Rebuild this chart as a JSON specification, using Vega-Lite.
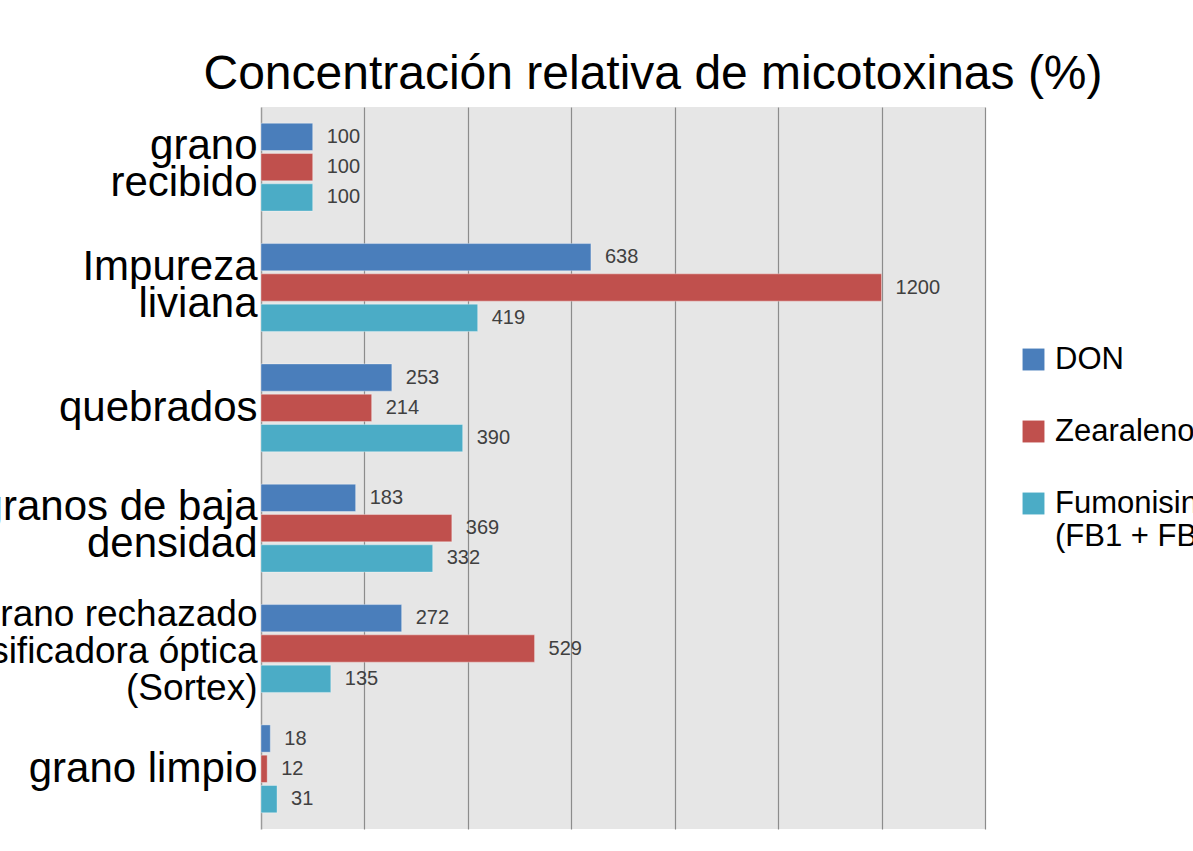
{
  "$schema": "https://vega.github.io/schema/vega-lite/v6.json",
  "autosize": {"type": "none"},
  "width": 724,
  "height": 722,
  "padding": {"left": 261, "top": 107, "right": 208, "bottom": 22},
  "background": "white",
  "title": {
    "text": "Concentración relativa de micotoxinas (%)",
    "font": "Liberation Sans",
    "fontSize": 48,
    "fontWeight": "normal",
    "color": "#000000",
    "anchor": "middle",
    "dx": 30,
    "offset": 8
  },
  "data": {
    "values": [
      {"categoria": "grano|recibido", "serie": "DON", "valor": 100},
      {"categoria": "grano|recibido", "serie": "Zearalenona", "valor": 100},
      {"categoria": "grano|recibido", "serie": "Fumonisinas|(FB1 + FB2)", "valor": 100},
      {"categoria": "Impureza|liviana", "serie": "DON", "valor": 638},
      {"categoria": "Impureza|liviana", "serie": "Zearalenona", "valor": 1200},
      {"categoria": "Impureza|liviana", "serie": "Fumonisinas|(FB1 + FB2)", "valor": 419},
      {"categoria": "quebrados", "serie": "DON", "valor": 253},
      {"categoria": "quebrados", "serie": "Zearalenona", "valor": 214},
      {"categoria": "quebrados", "serie": "Fumonisinas|(FB1 + FB2)", "valor": 390},
      {"categoria": "granos de baja|densidad", "serie": "DON", "valor": 183},
      {"categoria": "granos de baja|densidad", "serie": "Zearalenona", "valor": 369},
      {"categoria": "granos de baja|densidad", "serie": "Fumonisinas|(FB1 + FB2)", "valor": 332},
      {"categoria": "grano rechazado|clasificadora óptica|(Sortex)", "serie": "DON", "valor": 272},
      {"categoria": "grano rechazado|clasificadora óptica|(Sortex)", "serie": "Zearalenona", "valor": 529},
      {"categoria": "grano rechazado|clasificadora óptica|(Sortex)", "serie": "Fumonisinas|(FB1 + FB2)", "valor": 135},
      {"categoria": "grano limpio", "serie": "DON", "valor": 18},
      {"categoria": "grano limpio", "serie": "Zearalenona", "valor": 12},
      {"categoria": "grano limpio", "serie": "Fumonisinas|(FB1 + FB2)", "valor": 31}
    ]
  },
  "encoding": {
    "y": {
      "field": "categoria",
      "type": "nominal",
      "sort": null,
      "scale": {"paddingInner": 0.27, "paddingOuter": 0.135},
      "axis": {
        "title": null,
        "labelExpr": "split(datum.label, '|')",
        "labelFont": "Liberation Sans",
        "labelFontSize": {
          "condition": {"test": "length(split(datum.value, '|')) == 3", "value": 37},
          "value": 42
        },
        "labelLineHeight": 37,
        "labelColor": "#000000",
        "labelPadding": 4,
        "labelLimit": 0,
        "labelOffset": {
          "condition": [
            {"test": "length(split(datum.value, '|')) == 2", "value": -21},
            {"test": "length(split(datum.value, '|')) == 3", "value": -34}
          ],
          "value": 0
        },
        "ticks": false,
        "domain": true,
        "domainColor": "#9a9a9a",
        "domainWidth": 1.5
      }
    },
    "yOffset": {
      "field": "serie",
      "type": "nominal",
      "sort": null,
      "scale": {"paddingInner": 0.1}
    },
    "x": {
      "field": "valor",
      "type": "quantitative",
      "scale": {"domain": [0, 1400], "nice": false},
      "axis": {
        "title": null,
        "labels": false,
        "ticks": false,
        "domain": false,
        "grid": true,
        "values": [200, 400, 600, 800, 1000, 1200, 1400],
        "gridColor": "#8c8c8c",
        "gridWidth": 1.2
      }
    }
  },
  "layer": [
    {
      "mark": {"type": "bar", "stroke": "#ffffff", "strokeOpacity": 0.35, "strokeWidth": 1},
      "encoding": {
        "color": {
          "field": "serie",
          "type": "nominal",
          "sort": null,
          "scale": {"range": ["#4a7ebb", "#c0504d", "#4bacc6"]},
          "legend": {
            "title": null,
            "orient": "none",
            "legendX": 757,
            "legendY": 237,
            "labelExpr": "split(datum.label, '|')",
            "labelFont": "Liberation Sans",
            "labelFontSize": 31,
            "labelColor": "#000000",
            "labelLimit": 0,
            "labelOffset": 6,
            "symbolType": "square",
            "symbolSize": 480,
            "symbolStrokeWidth": 0,
            "rowPadding": 40
          }
        }
      }
    },
    {
      "mark": {
        "type": "text",
        "align": "left",
        "baseline": "middle",
        "dx": 14,
        "font": "Liberation Sans",
        "fontSize": 20,
        "color": "#404040"
      },
      "encoding": {
        "text": {"field": "valor", "type": "quantitative"}
      }
    }
  ],
  "config": {
    "view": {"fill": "#e6e6e6", "stroke": null}
  }
}
